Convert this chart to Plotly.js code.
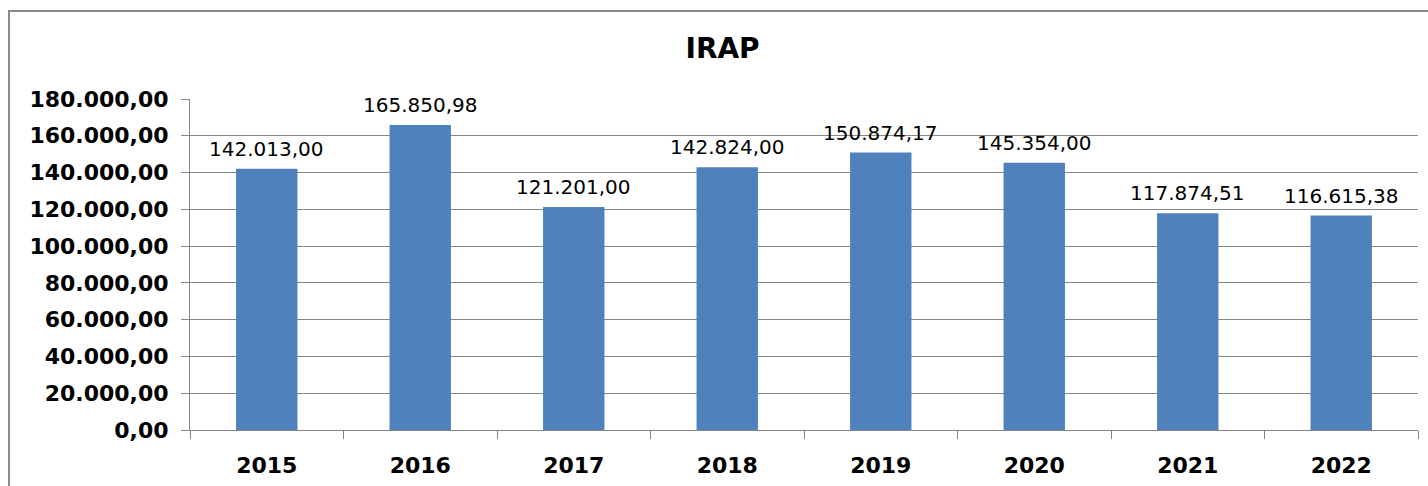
<!DOCTYPE html>
<html>
<head>
<meta charset="utf-8">
<script src="https://cdn.plot.ly/plotly-3.0.1.min.js"></script>
<style>
html,body{margin:0;padding:0;background:#fff;}
#chart{width:1428px;height:486px;}
</style>
</head>
<body>
<div id="chart"></div>
<script>
const years = ["2015","2016","2017","2018","2019","2020","2021","2022"];
const irapValues = [142013.00, 165850.98, 121201.00, 142824.00, 150874.17, 145354.00, 117874.51, 116615.38];
const yTickValues = [0,20000,40000,60000,80000,100000,120000,140000,160000,180000];

const FONT = "'DejaVu Sans', sans-serif";

function fmt(v) {
  const parts = v.toFixed(2).split('.');
  const intPart = parts[0].replace(/\B(?=(\d{3})+(?!\d))/g, '.');
  return intPart + ',' + parts[1];
}

const trace = {
  type: 'bar',
  x: years,
  y: irapValues,
  width: 0.4,
  marker: {color: '#4f81bd', line: {width: 0}},
  hoverinfo: 'skip'
};

const labelAnnotations = years.map((yr, i) => ({
  x: i, y: irapValues[i], xref: 'x', yref: 'y',
  text: fmt(irapValues[i]),
  showarrow: false,
  yanchor: 'bottom',
  yshift: 6,
  font: {family: FONT, size: 20, color: '#000'}
}));

const layout = {
  width: 1428,
  height: 486,
  separators: ',.',
  paper_bgcolor: '#fff',
  plot_bgcolor: '#fff',
  margin: {l: 190, r: 10, t: 99, b: 56},
  showlegend: false,
  title: {
    text: '<b>IRAP</b>',
    font: {family: FONT, size: 28, color: '#000'},
    x: 0.506, xanchor: 'center',
    y: 0.9, yanchor: 'middle', yref: 'container'
  },
  xaxis: {
    type: 'category',
    range: [-0.5, years.length - 0.5],
    tickson: 'boundaries',
    ticks: 'outside',
    ticklen: 8,
    tickcolor: '#868686',
    showgrid: false,
    showline: true,
    linecolor: '#868686',
    linewidth: 1,
    tickfont: {family: FONT, size: 22, color: '#000', weight: 'bold'},
    ticklabelstandoff: 16,
    fixedrange: true
  },
  yaxis: {
    range: [0, 180000],
    tickvals: yTickValues,
    tickformat: ',.2f',
    ticks: 'outside',
    ticklen: 8,
    tickcolor: '#868686',
    showgrid: true,
    gridcolor: '#868686',
    gridwidth: 1,
    zeroline: false,
    showline: true,
    linecolor: '#868686',
    linewidth: 1,
    tickfont: {family: FONT, size: 22, color: '#000', weight: 'bold'},
    ticklabelstandoff: 8,
    fixedrange: true
  },
  annotations: labelAnnotations,
  shapes: [{
    type: 'rect', xref: 'paper', yref: 'paper',
    x0: -181/1228, x1: 1.2, y0: -0.4, y1: 1 + 88/331,
    line: {color: '#8c8c8c', width: 2}, fillcolor: 'rgba(0,0,0,0)', layer: 'below'
  }]
};

Plotly.newPlot('chart', [trace], layout, {displayModeBar: false, staticPlot: true});
</script>
</body>
</html>
